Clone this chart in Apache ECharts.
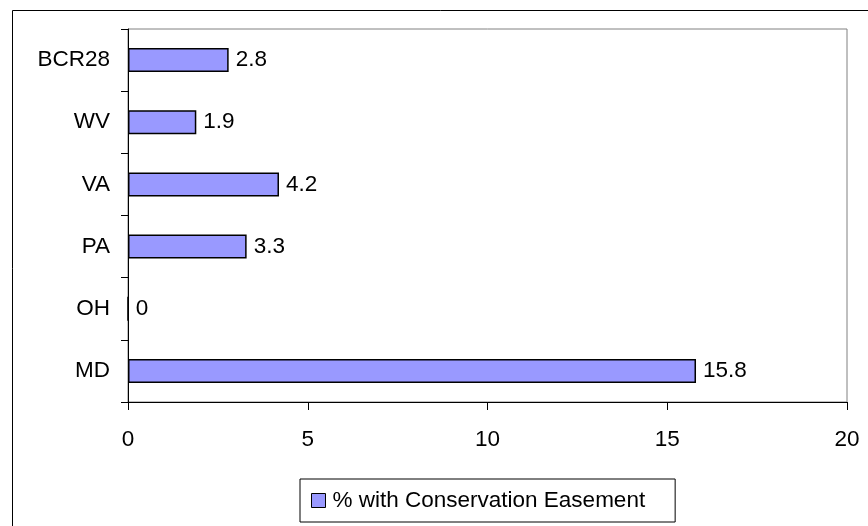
<!DOCTYPE html>
<html>
<head>
<meta charset="utf-8">
<script src="https://cdn.jsdelivr.net/npm/echarts@6/dist/echarts.min.js"></script>
<style>
  html, body { margin: 0; padding: 0; background: #fff; }
  #chart { width: 868px; height: 526px; }
</style>
</head>
<body>
<div id="chart"></div>
<script>
// values
const regions = ['MD', 'OH', 'PA', 'VA', 'WV', 'BCR28']
const easementPct = [15.8, 0, 3.3, 4.2, 1.9, 2.8]
const seriesName = '% with Conservation Easement'

const chart = echarts.init(document.getElementById('chart'))
const font = 'Liberation Sans, Arial, sans-serif'
const fs = 22.5

const option = {
  animation: false,
  backgroundColor: '#fff',
  graphic: [
    {
      type: 'rect',
      shape: { x: 12.5, y: 10.5, width: 870, height: 530 },
      style: { fill: 'none', stroke: '#000', lineWidth: 1 },
      silent: true
    }
  ],
  grid: {
    left: 128, top: 29, width: 719, height: 373,
    show: true, borderColor: '#808080', borderWidth: 1,
    containLabel: false
  },
  legend: {
    data: [seriesName],
    left: 300, top: 479,
    padding: [10, 30, 10, 11],
    borderColor: '#000', borderWidth: 1,
    itemWidth: 14, itemHeight: 14, itemGap: 4,
    icon: 'rect',
    textStyle: { fontFamily: font, fontSize: fs, color: '#000', padding: [0, 0, 0, 2] },
    itemStyle: { borderColor: '#000', borderWidth: 1 }
  },
  xAxis: {
    type: 'value',
    min: 0, max: 20, interval: 5,
    axisLine: { show: true, lineStyle: { color: '#000', width: 1 } },
    axisTick: { show: true, length: 8, lineStyle: { color: '#000' } },
    splitLine: { show: false },
    axisLabel: { fontFamily: font, fontSize: fs, color: '#000', margin: 26 }
  },
  yAxis: {
    type: 'category',
    data: regions,
    axisLine: { show: true, lineStyle: { color: '#000', width: 1 } },
    axisTick: { show: true, length: 7, alignWithLabel: false, lineStyle: { color: '#000' } },
    axisLabel: { fontFamily: font, fontSize: fs, color: '#000', margin: 18 }
  },
  series: [
    {
      name: seriesName,
      type: 'bar',
      data: easementPct,
      barWidth: 24,
      itemStyle: { color: '#9999FF', borderColor: '#000', borderWidth: 1.5 },
      label: {
        show: true, position: 'right', distance: 7,
        fontFamily: font, fontSize: fs, color: '#000'
      }
    }
  ]
}

chart.setOption(option)
</script>
</body>
</html>
